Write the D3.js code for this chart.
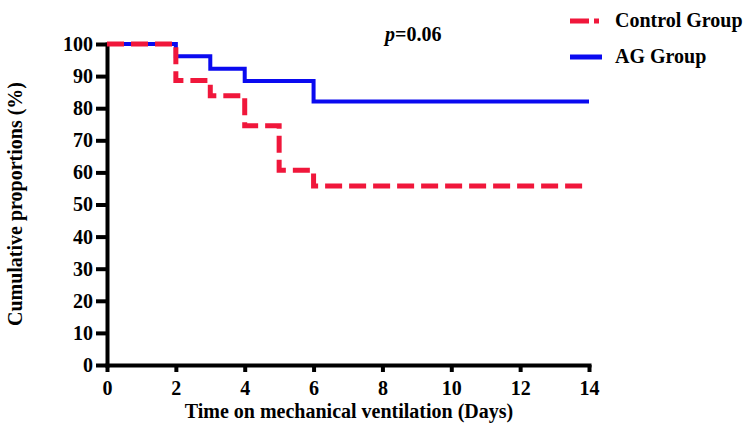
<!DOCTYPE html>
<html>
<head>
<meta charset="utf-8">
<script src="https://cdn.jsdelivr.net/npm/d3@7/dist/d3.min.js"></script>
<style>
  html, body { margin: 0; padding: 0; background: #fff; }
  svg { display: block; }
  text { font-family: "Liberation Serif", "Times New Roman", serif; font-weight: bold; fill: #000; }
</style>
</head>
<body>
<svg id="chart" width="750" height="431"></svg>
<script>
// ---- data ----
const agDays = [0, 2, 3, 4, 6, 14];
const agValues = [100, 96.2, 92.3, 88.5, 82.1, 82.1];
const controlDays = [0, 2, 3, 4, 5, 6, 14];
const controlValues = [100, 88.6, 83.9, 74.5, 60.7, 55.8, 55.8];
const xTicks = [0, 2, 4, 6, 8, 10, 12, 14];
const yTicks = [0, 10, 20, 30, 40, 50, 60, 70, 80, 90, 100];
const seriesNames = ["Control Group", "AG Group"];
const pValueText = "=0.06";

// ---- layout ----
const svg = d3.select("#chart");
const x = d3.scaleLinear().domain([0, 14]).range([107, 589]);
const y = d3.scaleLinear().domain([0, 100]).range([365, 44]);
const red = "#f0173b";
const blue = "#0a0af0";

// axes
const xAxis = d3.axisBottom(x).tickValues(xTicks).tickSize(7).tickSizeOuter(0).tickPadding(9);
const yAxis = d3.axisLeft(y).tickValues(yTicks).tickSize(11).tickSizeOuter(0).tickPadding(3);

const gx = svg.append("g").attr("transform", `translate(0,${y(0)})`).call(xAxis);
const gy = svg.append("g").attr("transform", `translate(${x(0)},0)`).call(yAxis);

[gx, gy].forEach(g => {
  g.select(".domain").attr("stroke", "#000").attr("stroke-width", 4).attr("stroke-linecap", "square");
  g.selectAll(".tick line").attr("stroke", "#000").attr("stroke-width", 4);
  g.selectAll(".tick text")
    .attr("font-family", "Liberation Serif, Times New Roman, serif")
    .attr("font-weight", "bold")
    .attr("font-size", 20)
    .attr("fill", "#000");
});

// lines
const line = d3.line().x(d => x(d[0])).y(d => y(d[1])).curve(d3.curveStepAfter);
const agData = agDays.map((d, i) => [d, agValues[i]]);
const ctData = controlDays.map((d, i) => [d, controlValues[i]]);

svg.append("path").datum(agData).attr("d", line)
  .attr("fill", "none").attr("stroke", blue).attr("stroke-width", 4);
svg.append("path").datum(ctData).attr("d", line)
  .attr("fill", "none").attr("stroke", red).attr("stroke-width", 5)
  .attr("stroke-dasharray", "17 7");

// axis labels
svg.append("text").attr("x", 349).attr("y", 418).attr("text-anchor", "middle")
  .attr("font-size", 20).text("Time on mechanical ventilation (Days)");
svg.append("text").attr("transform", "translate(22,204) rotate(-90)").attr("text-anchor", "middle")
  .attr("font-size", 20).text("Cumulative proportions (%)");

// p value
const pt = svg.append("text").attr("x", 385).attr("y", 41).attr("font-size", 20);
pt.append("tspan").attr("font-style", "italic").text("p");
pt.append("tspan").text(pValueText);

// legend
const legend = [
  { name: seriesNames[0], color: red, dash: "19 5 5 100", width: 5, y: 21, ty: 27 },
  { name: seriesNames[1], color: blue, dash: null, width: 5, y: 57, ty: 63 }
];
legend.forEach(l => {
  svg.append("line").attr("x1", 570).attr("x2", 602).attr("y1", l.y).attr("y2", l.y)
    .attr("stroke", l.color).attr("stroke-width", l.width)
    .attr("stroke-dasharray", l.dash);
  svg.append("text").attr("x", 615).attr("y", l.ty).attr("font-size", 20).text(l.name);
});
</script>
</body>
</html>
